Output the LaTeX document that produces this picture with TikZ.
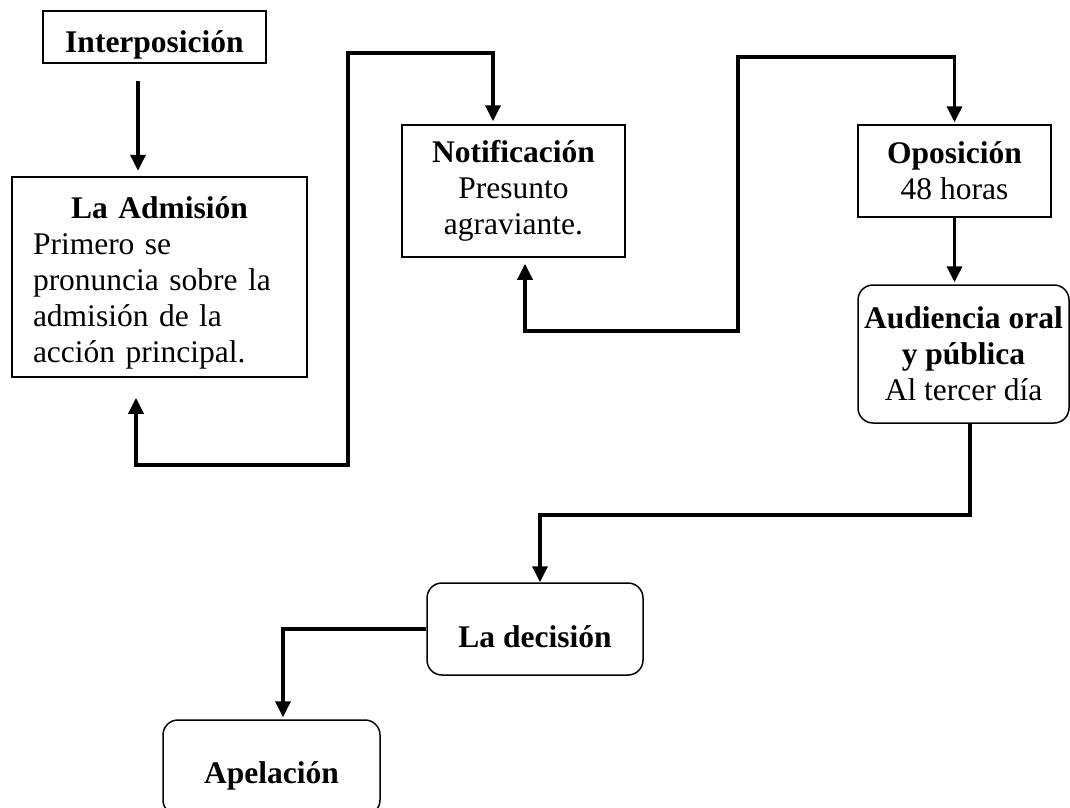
\documentclass[tikz,border=0pt]{standalone}
\usepackage{fontspec}
\setmainfont{Liberation Serif}
\usetikzlibrary{arrows.meta}

\begin{document}
\begin{tikzpicture}[x=1pt,y=-1pt,
  caja/.style={draw,line width=1.5pt,inner sep=3pt,align=center,font=\fontsize{31.5}{36}\selectfont},
  redonda/.style={caja,rounded corners=15pt},
  flecha/.style={line width=3.5pt,-{Triangle[length=16pt,width=15pt]}},
  doble/.style={line width=3.5pt,{Triangle[length=16pt,width=15pt]}-{Triangle[length=16pt,width=15pt]}}]
\useasboundingbox (0,0) rectangle (1070,807);
\node[caja,minimum width=223pt,minimum height=52pt,text height=30pt,text depth=0pt] (interp) at (154.5,37) {\textbf{Interposición}};
\node[caja,minimum width=295pt,minimum height=200pt,text width=253pt,align=left] (adm) at (159.5,277)
  {\makebox[253pt]{\rule{0pt}{34pt}\textbf{La Admisión}}\\Primero se\\pronuncia sobre la\\admisión de la\\acción principal.};
\node[caja,minimum width=223pt,minimum height=132pt] (notif) at (513.5,191) {\textbf{Notificación}\\Presunto\\agraviante.};
\node[caja,minimum width=193pt,minimum height=92pt] (opos) at (954.5,171) {\textbf{Oposición}\\48 horas};
\node[redonda,minimum width=211pt,minimum height=138pt] (aud) at (963.5,354) {\textbf{Audiencia oral}\\\textbf{y pública}\\Al tercer día};
\node[redonda,minimum width=216pt,minimum height=92pt,text height=36pt,text depth=0pt] (dec) at (535,629) {\textbf{La decisión}};
\node[redonda,minimum width=217pt,minimum height=95pt,text height=31pt,text depth=0pt] (apel) at (271.5,767.5) {\textbf{Apelación}};

\draw[flecha] ([xshift=-16.5pt,yshift=-17pt]interp.south) -- ++(0,90);
\draw[doble] ([xshift=-23.5pt,yshift=-20pt]adm.south) -- ++(0,67) -| (348,53) -| ([xshift=-20.5pt,yshift=3pt]notif.north);
\draw[doble] ([xshift=11.5pt,yshift=-6pt]notif.south) -- ++(0,67) -| (738,57) -| ([yshift=2pt]opos.north);
\draw[flecha,shorten >=2pt] (opos.south) -- (opos.south |- aud.north);
\draw[flecha] ([xshift=6.5pt]aud.south) -- ++(0,91) -| ([xshift=5pt]dec.north);
\draw[flecha] (dec.west) -| ([xshift=11.5pt,yshift=2pt]apel.north);
\end{tikzpicture}
\end{document}
